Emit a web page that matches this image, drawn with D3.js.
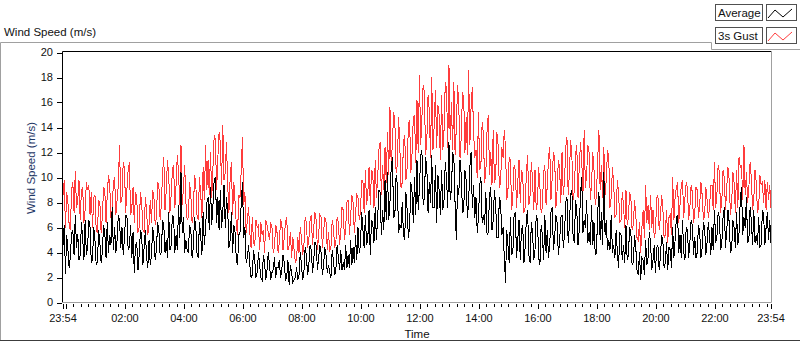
<!DOCTYPE html>
<html>
<head>
<meta charset="utf-8">
<script src="https://cdn.jsdelivr.net/npm/d3@7"></script>
<style>
  body { margin: 0; background: #fff; }
  svg { display: block; font-family: "Liberation Sans", Arial, sans-serif; }
</style>
</head>
<body>
<div id="chart"></div>
<script>
// samples every 2.5 min, 23:54 -> 23:54 next day (one row per hour)
let avgSpeed = [
  4.6, 6.2, 2.3, 5.4, 4.2, 2.8, 3.6, 5.6, 5.8, 3.8, 7.0, 4.4, 5.5, 3.4, 3.8, 6.4, 5.2, 3.4, 6.6, 3.8, 4.4, 6.6, 6.0, 3.2,
  3.4, 6.0, 5.0, 3.0, 3.2, 5.8, 4.8, 3.2, 4.0, 6.2, 5.6, 3.6, 6.4, 4.0, 5.4, 4.6, 7.6, 4.2, 6.0, 4.0, 5.0, 7.0, 6.6, 4.4,
  6.0, 3.8, 5.2, 7.0, 7.0, 4.2, 4.4, 6.2, 3.6, 5.6, 2.4, 4.6, 4.8, 2.6, 3.8, 5.8, 5.4, 3.0, 4.4, 5.8, 3.6, 2.8, 5.0, 3.0,
  3.8, 6.0, 5.0, 3.4, 4.2, 6.4, 5.8, 3.8, 4.0, 6.6, 6.2, 4.0, 5.0, 3.6, 7.2, 4.2, 4.6, 7.0, 6.8, 4.0, 5.4, 4.2, 7.8, 5.2,
  10.4, 5.6, 6.8, 4.0, 5.0, 4.2, 4.0, 6.2, 5.8, 3.6, 4.4, 6.8, 6.2, 4.0, 3.6, 6.4, 5.4, 3.8, 7.2, 4.6, 6.0, 8.0, 8.4, 5.8,
  9.2, 6.2, 7.8, 9.8, 10.0, 6.4, 8.4, 5.8, 9.0, 6.0, 7.2, 9.4, 6.0, 8.4, 7.4, 4.4, 5.0, 7.2, 4.0, 6.2, 5.6, 3.4, 3.0, 5.4,
  5.6, 8.0, 9.6, 5.2, 6.0, 3.2, 3.6, 4.6, 3.0, 2.0, 2.2, 4.2, 3.4, 2.0, 2.4, 4.0, 3.0, 2.0, 1.8, 3.8, 3.2, 1.8, 2.6, 4.0,
  3.0, 1.8, 2.4, 2.6, 3.6, 2.0, 2.8, 2.8, 3.4, 2.0, 2.6, 3.8, 3.2, 1.8, 2.0, 3.4, 1.4, 3.0, 2.4, 1.6, 1.8, 2.0, 2.8, 1.8,
  2.2, 4.0, 3.0, 1.8, 2.4, 4.4, 3.8, 2.2, 3.0, 4.6, 4.2, 2.4, 3.4, 4.8, 4.6, 2.6, 3.6, 4.6, 4.0, 2.2, 3.0, 4.4, 3.8, 2.4,
  3.0, 2.4, 2.0, 4.2, 3.4, 2.2, 2.6, 4.6, 3.6, 2.6, 4.2, 2.6, 3.2, 2.6, 4.6, 2.8, 3.8, 2.8, 5.0, 3.0, 4.4, 3.2, 5.4, 3.4,
  6.0, 4.0, 4.6, 7.2, 5.8, 4.4, 7.0, 4.6, 5.2, 7.4, 3.8, 6.6, 6.4, 4.8, 7.6, 5.0, 6.8, 9.0, 8.8, 5.4, 7.4, 5.8, 9.8, 6.6,
  10.4, 6.6, 8.0, 10.8, 11.6, 6.8, 7.0, 10.2, 9.4, 5.6, 6.2, 6.0, 8.0, 5.4, 5.0, 8.8, 7.4, 5.2, 6.0, 9.6, 8.8, 6.4, 10.0, 7.0,
  11.4, 7.4, 9.2, 11.8, 12.2, 7.8, 8.4, 11.6, 10.8, 7.2, 9.6, 8.0, 11.8, 7.6, 7.6, 11.0, 6.4, 10.2, 9.0, 7.0, 10.6, 7.4, 8.2, 11.2,
  10.0, 7.6, 12.8, 8.2, 9.0, 12.0, 11.6, 7.8, 5.0, 9.4, 8.6, 11.4, 10.2, 7.2, 7.4, 10.6, 9.8, 6.8, 8.0, 10.8, 12.0, 7.6, 9.4, 6.8,
  8.4, 5.6, 6.8, 9.4, 10.0, 6.4, 7.0, 6.2, 8.8, 5.4, 5.6, 8.6, 9.2, 5.8, 6.6, 9.0, 7.8, 5.2, 5.2, 8.4, 8.0, 5.4, 6.0, 3.6,
  1.6, 5.8, 4.6, 3.2, 6.8, 3.8, 4.0, 7.0, 7.2, 3.6, 5.0, 6.6, 3.4, 5.8, 6.2, 3.2, 4.4, 6.8, 7.4, 3.8, 3.2, 6.4, 5.6, 3.4,
  4.2, 7.0, 6.6, 3.6, 3.0, 6.2, 5.4, 3.4, 7.0, 4.0, 5.8, 3.6, 4.6, 7.2, 7.6, 4.2, 5.2, 7.0, 6.4, 3.8, 4.8, 6.8, 7.0, 4.4,
  5.4, 8.0, 8.4, 4.8, 6.2, 8.6, 9.0, 5.2, 4.8, 8.2, 7.4, 4.6, 5.8, 8.6, 10.0, 5.6, 6.6, 6.0, 8.2, 4.8, 5.6, 4.6, 7.8, 4.6,
  6.4, 3.8, 4.0, 7.2, 8.8, 5.0, 7.2, 4.6, 10.4, 5.4, 6.6, 4.2, 5.0, 4.2, 7.0, 4.0, 4.6, 3.6, 5.8, 4.0, 2.8, 5.6, 5.4, 3.4,
  4.6, 3.2, 6.2, 3.4, 3.8, 6.0, 5.6, 3.0, 3.2, 5.4, 4.4, 2.6, 2.2, 4.0, 1.8, 3.6, 3.4, 2.2, 5.0, 3.0, 3.6, 5.6, 4.8, 2.6,
  3.4, 4.6, 2.4, 4.4, 4.6, 2.6, 3.6, 5.4, 5.0, 2.8, 3.2, 4.8, 2.6, 4.4, 4.2, 2.8, 6.0, 3.6, 5.0, 6.8, 7.0, 4.0, 5.4, 3.6,
  6.6, 4.0, 3.4, 6.0, 5.8, 3.6, 4.8, 6.6, 6.2, 3.8, 5.2, 3.6, 4.0, 6.2, 5.6, 3.6, 4.4, 6.4, 6.0, 3.8, 4.8, 6.4, 5.4, 3.8,
  6.0, 4.2, 7.4, 4.8, 5.2, 7.2, 6.8, 4.2, 4.8, 6.8, 7.6, 4.4, 5.8, 7.4, 6.4, 4.0, 4.2, 6.6, 6.0, 4.4, 7.2, 4.6, 5.6, 8.2,
  9.2, 5.4, 6.8, 6.0, 8.4, 4.8, 5.0, 7.6, 6.6, 4.6, 7.4, 4.8, 5.4, 4.6, 6.8, 4.4, 4.6, 7.4, 7.0, 4.6, 6.0, 7.2, 5.0, 6.6, 4.8
];

let gustSpeed = [
  8.6, 9.8, 6.0, 8.8, 8.0, 6.2, 5.8, 9.0, 9.6, 7.2, 10.5, 7.6, 8.2, 9.8, 6.6, 9.0, 9.2, 6.4, 7.4, 9.6, 9.0, 9.4, 7.0, 8.8,
  6.0, 8.4, 8.6, 5.8, 5.6, 8.2, 8.0, 5.6, 6.8, 9.2, 9.0, 6.4, 8.6, 10.2, 9.4, 6.8, 7.4, 9.6, 10.0, 7.0, 8.2, 9.4, 12.6, 8.0,
  8.4, 11.2, 10.8, 7.2, 9.0, 10.6, 11.2, 7.0, 7.6, 9.2, 6.4, 8.8, 8.4, 5.6, 6.0, 8.8, 8.0, 5.8, 5.6, 8.4, 7.4, 5.4, 6.2, 8.2,
  6.4, 9.0, 8.4, 6.2, 6.8, 9.6, 9.4, 6.6, 7.8, 10.4, 11.6, 7.4, 9.0, 11.4, 10.2, 7.2, 8.6, 10.6, 11.0, 7.6, 9.4, 11.8, 10.4, 7.8,
  12.6, 7.8, 9.2, 11.0, 8.0, 6.6, 6.8, 9.6, 8.6, 6.4, 7.0, 10.2, 9.6, 7.0, 6.6, 10.0, 8.8, 6.8, 10.8, 8.2, 12.6, 9.0, 11.4, 8.6,
  12.0, 8.4, 10.8, 13.4, 13.0, 9.0, 11.6, 13.6, 12.8, 9.4, 14.2, 9.8, 10.4, 12.8, 9.4, 7.2, 10.0, 11.2, 7.0, 9.6, 8.0, 6.2, 5.4, 8.6,
  8.4, 10.6, 13.2, 7.8, 8.8, 5.6, 6.6, 7.6, 5.6, 4.4, 6.8, 4.8, 4.6, 6.6, 6.0, 6.2, 4.2, 6.4, 5.4, 5.8, 4.0, 6.6, 6.2, 5.6,
  5.0, 6.4, 6.0, 4.0, 4.4, 6.2, 5.8, 4.0, 4.8, 6.6, 6.4, 4.2, 5.2, 6.4, 6.8, 4.2, 4.6, 5.6, 3.6, 5.2, 4.2, 3.2, 3.4, 5.2,
  4.0, 6.0, 5.2, 3.8, 4.6, 6.8, 6.4, 4.4, 5.0, 6.6, 7.0, 4.6, 6.0, 7.2, 6.6, 4.2, 5.4, 7.0, 6.8, 4.4, 5.6, 6.8, 6.4, 4.2,
  5.6, 4.2, 4.4, 6.6, 6.0, 4.4, 4.8, 6.8, 6.4, 4.6, 5.6, 7.6, 7.4, 5.0, 6.0, 8.0, 8.2, 5.4, 6.8, 8.6, 8.0, 5.6, 7.0, 8.6,
  8.4, 6.6, 7.2, 9.8, 9.8, 7.2, 10.6, 7.8, 8.8, 10.8, 7.8, 10.6, 10.4, 7.6, 11.4, 8.4, 10.0, 12.2, 12.8, 8.6, 11.0, 9.0, 12.4, 9.6,
  13.6, 10.2, 15.6, 11.0, 12.8, 15.2, 14.4, 10.4, 11.0, 14.8, 12.6, 9.2, 9.6, 12.8, 13.4, 9.8, 10.8, 14.2, 14.6, 10.4, 12.0, 14.8, 15.0, 11.2,
  16.2, 12.0, 18.2, 12.6, 14.8, 17.4, 16.8, 11.8, 13.0, 16.6, 15.4, 11.6, 18.0, 12.2, 14.2, 17.0, 12.4, 15.8, 15.0, 11.4, 16.6, 12.2, 13.8, 17.6,
  17.2, 12.4, 19.0, 13.0, 16.0, 12.2, 17.6, 11.8, 14.0, 17.4, 15.8, 11.6, 13.2, 16.8, 16.4, 12.0, 14.8, 11.8, 18.6, 12.6, 15.6, 17.2, 13.8, 11.6,
  12.2, 10.0, 15.2, 10.6, 11.0, 14.4, 13.6, 9.6, 10.4, 13.8, 15.0, 10.2, 12.0, 9.4, 13.8, 9.6, 10.0, 13.6, 12.6, 9.2, 9.6, 12.4, 11.6, 13.8,
  12.4, 8.2, 9.0, 11.6, 11.4, 7.4, 8.6, 11.0, 10.6, 7.6, 9.6, 11.4, 8.0, 10.6, 10.2, 7.2, 7.6, 10.4, 11.8, 7.8, 8.6, 11.2, 9.8, 7.4,
  10.6, 7.4, 8.0, 10.8, 9.2, 7.2, 7.6, 10.4, 11.0, 7.8, 9.4, 11.6, 12.4, 8.2, 10.0, 12.0, 11.6, 7.6, 9.0, 11.4, 10.8, 8.0, 12.0, 8.6,
  9.6, 12.4, 13.2, 8.6, 10.4, 13.0, 11.8, 8.2, 9.0, 11.8, 12.6, 8.4, 10.8, 12.8, 11.4, 8.6, 13.8, 9.2, 10.2, 12.6, 12.0, 8.2, 9.4, 12.0,
  10.6, 7.8, 8.6, 11.4, 13.8, 9.0, 11.0, 8.4, 12.4, 8.6, 9.8, 12.2, 11.6, 7.6, 8.4, 10.8, 9.6, 6.8, 7.0, 9.8, 8.8, 6.4, 6.6, 8.8,
  7.8, 6.0, 9.0, 6.2, 6.8, 8.8, 8.4, 5.8, 6.2, 8.2, 7.0, 5.2, 5.0, 6.4, 4.0, 6.0, 7.4, 5.2, 9.4, 6.4, 7.8, 5.8, 8.6, 6.0,
  7.4, 5.2, 5.6, 8.4, 8.6, 5.8, 6.8, 8.6, 7.6, 5.2, 5.4, 7.4, 4.8, 6.8, 7.0, 5.4, 10.0, 6.6, 8.4, 9.2, 9.6, 6.4, 7.8, 9.4,
  9.8, 6.8, 8.4, 9.6, 9.2, 6.6, 7.6, 9.4, 8.8, 6.4, 7.2, 9.2, 9.0, 6.8, 7.8, 9.6, 8.6, 6.6, 7.0, 9.2, 8.2, 6.8, 7.6, 9.4,
  9.4, 7.4, 11.2, 7.6, 8.6, 11.0, 10.4, 7.2, 8.2, 10.6, 10.0, 7.4, 9.2, 10.8, 9.8, 7.0, 8.0, 10.4, 9.6, 7.2, 10.6, 7.6, 11.6, 10.8,
  11.0, 8.2, 12.6, 8.6, 10.4, 8.0, 9.2, 11.2, 10.0, 7.4, 8.2, 10.6, 9.6, 7.2, 7.6, 10.2, 9.4, 9.6, 8.0, 9.8, 7.4, 9.6, 8.2, 9.4, 7.6
];

let seriesNames = ['Average', '3s Gust'];
let seriesColors = ['#000000', '#ff3c3c'];
let yTicks = [0, 2, 4, 6, 8, 10, 12, 14, 16, 18, 20];

let startTime = new Date(Date.UTC(2000, 0, 1, 23, 54));
let endTime = new Date(Date.UTC(2000, 0, 2, 23, 54));
let stepMinutes = 2.5;

let W = 800, H = 342;
let svg = d3.select('#chart').append('svg')
    .attr('width', W)
    .attr('height', H);

// scales
let x = d3.scaleUtc()
    .domain([startTime, endTime])
    .range([63, 771]);
let y = d3.scaleLinear()
    .domain([0, 20])
    .range([302.5, 52.5]);

// outer panel lines
svg.append('path')
    .attr('d', 'M0.5,341 V42.5 H711.5 V49.5 H800')
    .attr('fill', 'none')
    .attr('stroke', '#a0a0a0');
svg.append('line')
    .attr('x1', 0).attr('x2', 800)
    .attr('y1', 340.5).attr('y2', 340.5)
    .attr('stroke', '#3c3c3c');

svg.append('text')
    .attr('x', 4).attr('y', 36)
    .attr('font-size', 11.5)
    .attr('fill', '#111')
    .text('Wind Speed (m/s)');

// plot lines
let line = d3.line()
    .x((d, i) => x(new Date(startTime.getTime() + i * stepMinutes * 60000)))
    .y(d => y(d));

let plot = svg.append('g');
plot.append('path')
    .datum(gustSpeed)
    .attr('fill', 'none')
    .attr('stroke', seriesColors[1])
    .attr('stroke-width', 1)
    .attr('shape-rendering', 'crispEdges')
    .attr('d', line);
plot.append('path')
    .datum(avgSpeed)
    .attr('fill', 'none')
    .attr('stroke', seriesColors[0])
    .attr('stroke-width', 1)
    .attr('shape-rendering', 'crispEdges')
    .attr('d', line);

// plot frame: dark top/left, gray bottom/right
svg.append('path')
    .attr('d', 'M62.5,303 V51.5 H772')
    .attr('fill', 'none')
    .attr('stroke', '#000');
svg.append('path')
    .attr('d', 'M62,302.5 H771.5 V51')
    .attr('fill', 'none')
    .attr('stroke', '#a0a0a0');

// y axis
let yAxis = svg.append('g').attr('font-size', 11).attr('fill', '#111');
yAxis.selectAll('line')
    .data(yTicks)
    .enter().append('line')
    .attr('x1', 57).attr('x2', 62)
    .attr('y1', d => Math.round(y(d)) + 0.5)
    .attr('y2', d => Math.round(y(d)) + 0.5)
    .attr('stroke', '#000');
yAxis.selectAll('text')
    .data(yTicks)
    .enter().append('text')
    .attr('x', 53)
    .attr('y', d => y(d))
    .attr('dy', '0.35em')
    .attr('text-anchor', 'end')
    .text(d => d);

svg.append('text')
    .attr('transform', 'translate(35,168) rotate(-90)')
    .attr('text-anchor', 'middle')
    .attr('font-size', 11.5)
    .attr('fill', '#1f3766')
    .text('Wind Speed (m/s)');

// x axis: minor every 15 min, major every 2 h plus both ends
let minorTicks = x.ticks(d3.utcMinute.every(15));
let majorTicks = [startTime].concat(x.ticks(d3.utcHour.every(2)), [endTime]);
let fmt = d3.utcFormat('%H:%M');

let xAxis = svg.append('g').attr('font-size', 11).attr('fill', '#111');
xAxis.selectAll('line.minor')
    .data(minorTicks)
    .enter().append('line')
    .attr('class', 'minor')
    .attr('x1', d => Math.round(x(d)) + 0.5)
    .attr('x2', d => Math.round(x(d)) + 0.5)
    .attr('y1', 304).attr('y2', 307)
    .attr('stroke', '#000');
xAxis.selectAll('line.major')
    .data(majorTicks)
    .enter().append('line')
    .attr('class', 'major')
    .attr('x1', d => Math.round(x(d)) + 0.5)
    .attr('x2', d => Math.round(x(d)) + 0.5)
    .attr('y1', 304).attr('y2', 309)
    .attr('stroke', '#000');
xAxis.selectAll('text')
    .data(majorTicks.filter(d => d.getUTCHours() !== 0 || d.getUTCMinutes() !== 0))
    .enter().append('text')
    .attr('x', d => x(d))
    .attr('y', 322)
    .attr('text-anchor', 'middle')
    .text(d => fmt(d));

svg.append('text')
    .attr('x', 417).attr('y', 338)
    .attr('text-anchor', 'middle')
    .attr('font-size', 11.5)
    .attr('fill', '#111')
    .text('Time');

// legend
let legend = svg.append('g')
    .selectAll('g')
    .data(seriesNames)
    .enter().append('g')
    .attr('transform', (d, i) => 'translate(0,' + i * 23 + ')');

legend.append('rect')
    .attr('x', 715.5).attr('y', 4.5)
    .attr('width', 47).attr('height', 16)
    .attr('fill', '#fff')
    .attr('stroke', '#505050');
legend.append('text')
    .attr('x', 718).attr('y', 17)
    .attr('font-size', 11.5)
    .attr('fill', '#111')
    .text(d => d);
legend.append('rect')
    .attr('x', 766.5).attr('y', 4.5)
    .attr('width', 30).attr('height', 16)
    .attr('fill', '#fff')
    .attr('stroke', '#505050');
legend.append('path')
    .attr('d', 'M768,18 L775,10 L783,17 L792,9')
    .attr('fill', 'none')
    .attr('stroke', (d, i) => seriesColors[i]);
</script>
</body>
</html>
